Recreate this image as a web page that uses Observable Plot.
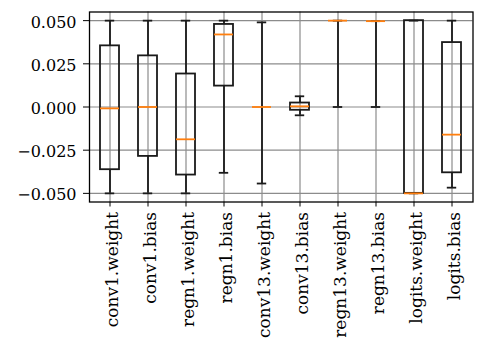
<!DOCTYPE html>
<html>
<head>
<meta charset="utf-8">
<script src="https://cdn.jsdelivr.net/npm/d3@7"></script>
<script src="https://cdn.jsdelivr.net/npm/@observablehq/plot@0.6"></script>
<style>
  html, body { margin: 0; padding: 0; background: white; }
</style>
</head>
<body>
<div id="chart"></div>
<script>
const categories = ["conv1.weight", "conv1.bias", "regn1.weight", "regn1.bias", "conv13.weight",
  "conv13.bias", "regn13.weight", "regn13.bias", "logits.weight", "logits.bias"];
const whiskerLow = [-0.05, -0.05, -0.05, -0.0381, -0.0443, -0.0048, 0.0, 0.0, -0.05, -0.0467];
const q1Values   = [-0.0363, -0.0286, -0.0394, 0.0121, 0.0, -0.0019, 0.05, 0.0497, -0.05, -0.0381];
const medians    = [-0.0008, 0.0, -0.0187, 0.042, 0.0, 0.0004, 0.05, 0.0497, -0.05, -0.016];
const q3Values   = [0.0354, 0.0296, 0.0191, 0.0478, 0.0, 0.0023, 0.05, 0.0497, 0.05, 0.0373];
const whiskerHigh = [0.05, 0.05, 0.05, 0.05, 0.049, 0.0062, 0.05, 0.0497, 0.05, 0.05];
const yTicks = [-0.05, -0.025, 0, 0.025, 0.05];

const rows = categories.map((name, i) => ({
  name, lo: whiskerLow[i], q1: q1Values[i], med: medians[i], q3: q3Values[i], hi: whiskerHigh[i]
}));

const lineColor = "#1a1a1a";
const capInset = 4.8;

const chart = Plot.plot({
  width: 488,
  height: 354,
  marginLeft: 89,
  marginRight: 15.5,
  marginTop: 11.5,
  marginBottom: 152.5,
  style: { fontFamily: "DejaVu Serif", fontSize: "16px", background: "white", color: "black" },
  x: { type: "band", domain: categories, paddingInner: 0.5, paddingOuter: 0.25, label: null },
  y: { domain: [-0.055, 0.055], label: null },
  marks: [
    Plot.gridX(categories, { stroke: "#8c8c8c", strokeOpacity: 1, strokeWidth: 1.2 }),
    Plot.gridY(yTicks, { stroke: "#8c8c8c", strokeOpacity: 1, strokeWidth: 1.2 }),
    Plot.ruleX(rows, { x: "name", y1: "lo", y2: "q1", stroke: lineColor, strokeWidth: 1.8 }),
    Plot.ruleX(rows, { x: "name", y1: "q3", y2: "hi", stroke: lineColor, strokeWidth: 1.8 }),
    Plot.tickY(rows, { x: "name", y: "lo", stroke: lineColor, strokeWidth: 1.8, insetLeft: capInset, insetRight: capInset }),
    Plot.tickY(rows, { x: "name", y: "hi", stroke: lineColor, strokeWidth: 1.8, insetLeft: capInset, insetRight: capInset }),
    Plot.barY(rows, { x: "name", y1: "q1", y2: "q3", fill: "none", stroke: lineColor, strokeWidth: 1.8 }),
    Plot.tickY(rows, { x: "name", y: "med", stroke: "#ff7f0e", strokeWidth: 1.8 }),
    Plot.frame({ stroke: "black", strokeWidth: 1.3 }),
    Plot.axisX({ tickSize: 5, tickFormat: () => "", label: null }),
    Plot.axisX({ tickSize: 0, tickPadding: 10, tickRotate: -90, fontSize: 17, dx: 3, label: null }),
    Plot.axisY({ ticks: yTicks, tickSize: 6, tickFormat: () => "", label: null }),
    Plot.axisY({ ticks: yTicks, tickSize: 0, tickPadding: 13, dy: 2, tickFormat: d3.format(".3f"), label: null })
  ]
});
document.getElementById("chart").appendChild(chart);
</script>
</body>
</html>
